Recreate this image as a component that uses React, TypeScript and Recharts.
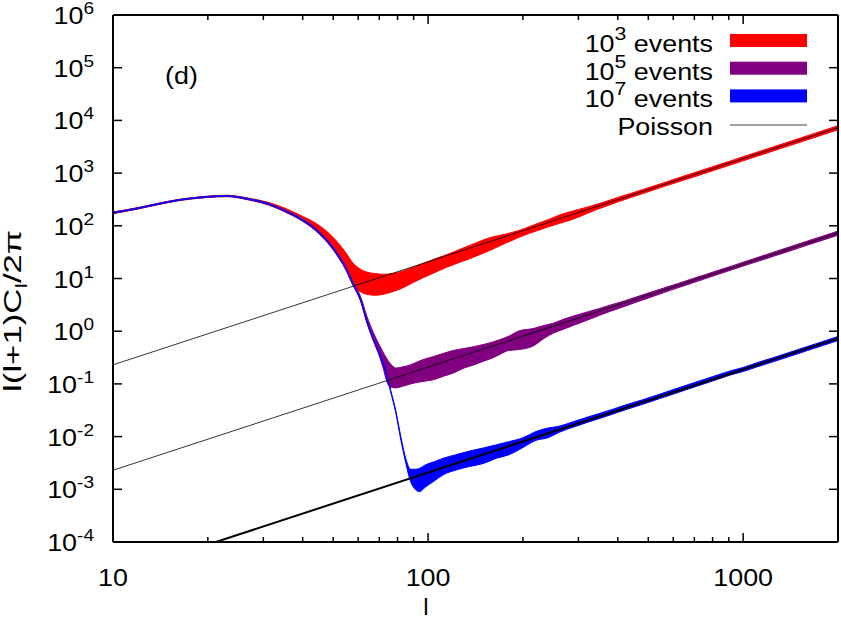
import React from "react";
import { ComposedChart, Area, Line, XAxis, YAxis, Legend } from "recharts";

const FONT = '"Liberation Sans", Arial, Helvetica, sans-serif';
const SX = 1.12; // text in the original is slightly wide

// Poisson noise levels, straight lines on log-log (end points)
const poissonL = [10, 2000];
const poisson3 = [0.23, 7300];
const poisson5 = [0.0023, 73];
const poisson7 = [0.000023, 0.73];

// 10^3 events band
const redL = [10, 12, 14, 16, 18, 20, 23, 27, 31, 35, 39, 44, 50, 55, 58, 61, 64, 68, 72, 77, 83, 90, 97, 105, 115, 125, 135, 145, 155, 165, 175, 185, 195, 210, 225, 240, 260, 280, 300, 320, 345, 370, 400, 440, 480, 520, 570, 620, 680, 750, 820, 900, 1000, 1100, 1250, 1400, 1600, 1800, 2000];
const redLo = [170, 208, 254, 296, 325, 345, 357, 308, 250, 185, 133, 80, 35, 14, 7.2, 5.6, 5.0, 4.8, 5.0, 5.6, 6.6, 8.5, 10.5, 13, 16.5, 20, 23.5, 28, 33, 39, 46, 53, 61, 72, 83, 95, 110, 126, 146, 172, 206, 240, 284, 345, 408, 480, 575, 675, 805, 975, 1160, 1390, 1715, 2060, 2645, 3300, 4290, 5400, 6650];
const redHi = [183, 222, 270, 314, 345, 366, 380, 334, 280, 218, 162, 112, 60, 30, 19, 15, 13.2, 12.4, 12.0, 12.4, 13.8, 16.5, 19.5, 23.5, 28.5, 35, 42, 50, 58, 64, 69, 75, 82, 97, 113, 130, 158, 182, 204, 226, 258, 295, 345, 412, 488, 568, 680, 805, 965, 1165, 1385, 1660, 2050, 2460, 3165, 3950, 5130, 6460, 7950];

// 10^5 events band
const purL = [10, 12, 14, 16, 18, 20, 23, 27, 31, 35, 39, 44, 50, 55, 58, 61, 64, 67, 70, 72, 74, 76, 79, 83, 88, 95, 104, 112, 120, 130, 140, 150, 160, 170, 180, 195, 215, 235, 250, 270, 290, 320, 350, 380, 420, 460, 500, 560, 620, 690, 760, 840, 920, 1000, 1100, 1250, 1400, 1600, 1800, 2000];
const purLo = [172, 210, 256, 299, 328, 348, 360, 312, 255, 189, 135, 81, 35, 14.2, 7.1, 3.8, 1.42, 0.66, 0.34, 0.2, 0.11, 0.087, 0.084, 0.09, 0.1, 0.11, 0.12, 0.14, 0.16, 0.2, 0.23, 0.27, 0.31, 0.37, 0.43, 0.45, 0.52, 0.75, 0.92, 1.1, 1.3, 1.62, 2.0, 2.4, 2.95, 3.6, 4.25, 5.4, 6.65, 8.2, 10.0, 12.2, 14.6, 17.2, 20.7, 26.5, 33, 43, 54, 66.5];
const purHi = [181, 220, 268, 311, 342, 362, 376, 328, 270, 202, 146, 89, 39.5, 16.2, 8.3, 4.6, 1.9, 0.95, 0.55, 0.4, 0.3, 0.24, 0.2, 0.21, 0.23, 0.28, 0.33, 0.38, 0.43, 0.47, 0.51, 0.56, 0.62, 0.7, 0.8, 1.02, 1.12, 1.3, 1.42, 1.7, 1.95, 2.32, 2.7, 3.15, 3.75, 4.5, 5.3, 6.6, 8.0, 9.9, 11.9, 14.5, 17.2, 20.4, 24.6, 31.6, 39.5, 51.3, 64.6, 79.5];

// 10^7 events band
const bluL = [10, 12, 14, 16, 18, 20, 23, 27, 31, 35, 39, 44, 50, 55, 58, 61, 64, 67, 70, 72, 74, 76, 79, 82, 85, 88, 91, 94, 98, 104, 112, 122, 135, 150, 165, 180, 200, 220, 240, 260, 290, 320, 350, 390, 430, 480, 540, 600, 670, 750, 830, 920, 1000, 1100, 1250, 1400, 1600, 1800, 2000];
const bluLo = [174, 212, 258, 301, 331, 350, 363, 315, 258, 192, 137, 83, 36, 14.6, 7.3, 3.9, 1.45, 0.68, 0.37, 0.24, 0.135, 0.072, 0.028, 0.0085, 0.0031, 0.0014, 0.001, 0.0009, 0.0011, 0.0014, 0.0019, 0.0023, 0.0027, 0.0031, 0.0039, 0.0045, 0.0062, 0.0085, 0.0095, 0.012, 0.0152, 0.0186, 0.022, 0.0274, 0.0333, 0.041, 0.052, 0.064, 0.08, 0.1, 0.122, 0.15, 0.172, 0.208, 0.265, 0.33, 0.43, 0.54, 0.665];
const bluHi = [179, 218, 266, 309, 339, 360, 373, 325, 266, 198, 143, 87, 38, 15.4, 7.7, 4.1, 1.55, 0.72, 0.39, 0.26, 0.145, 0.078, 0.031, 0.0098, 0.0038, 0.0024, 0.0024, 0.0025, 0.0029, 0.0033, 0.0039, 0.0045, 0.0053, 0.0061, 0.007, 0.008, 0.0095, 0.0125, 0.0145, 0.0157, 0.0193, 0.0234, 0.0275, 0.0338, 0.041, 0.05, 0.063, 0.078, 0.097, 0.121, 0.148, 0.18, 0.205, 0.25, 0.316, 0.395, 0.513, 0.645, 0.795];

const legendNames = ["events", "events", "events", "Poisson"];
const legendExp = ["3", "5", "7"];
const bandColors = ["#ff0000", "#800080", "#0000ff"];

const xTicks = [10, 20, 30, 40, 50, 60, 70, 80, 90, 100, 200, 300, 400, 500, 600, 700, 800, 900, 1000, 2000];
const xMajor = [10, 100, 1000];
const yTicks = [1e-4, 1e-3, 1e-2, 1e-1, 1, 10, 100, 1e3, 1e4, 1e5, 1e6];

const band = (ls: number[], lo: number[], hi: number[]) =>
  ls.map((l, i) => ({ l, range: [lo[i], hi[i]] }));
const pts = (ls: number[], vs: number[]) => ls.map((l, i) => ({ l, v: vs[i] }));

const redData = band(redL, redLo, redHi);
const purData = band(purL, purLo, purHi);
const bluData = band(bluL, bluLo, bluHi);

const XTickBottom = ({ x, y, payload }: any) => {
  const major = xMajor.includes(payload.value);
  return (
    <g>
      <line x1={x} x2={x} y1={y} y2={y - (major ? 9 : 5)} stroke="#000" strokeWidth={1.5} />
      {major && (
        <text transform={`translate(${x},${y + 44}) scale(${SX},1)`} textAnchor="middle" fontFamily={FONT} fontSize={24} fill="#000">
          {payload.value}
        </text>
      )}
    </g>
  );
};

const XTickTop = ({ x, y, payload }: any) => {
  const major = xMajor.includes(payload.value);
  return <line x1={x} x2={x} y1={y} y2={y + (major ? 9 : 5)} stroke="#000" strokeWidth={1.5} />;
};

const YTickLeft = ({ x, y, payload }: any) => {
  const e = Math.round(Math.log10(payload.value));
  return (
    <g>
      <line x1={x} x2={x + 9} y1={y} y2={y} stroke="#000" strokeWidth={1.5} />
      <text transform={`translate(${x - 19},${y + 9}) scale(${SX},1)`} textAnchor="end" fontFamily={FONT} fontSize={24} fill="#000">
        10<tspan dy={-10} fontSize={17}>{String(e)}</tspan>
      </text>
    </g>
  );
};

const YTickRight = ({ x, y }: any) => (
  <line x1={x} x2={x - 9} y1={y} y2={y} stroke="#000" strokeWidth={1.5} />
);

const YTitle = (props: any) => {
  const vb = props.viewBox || { x: 13, y: 15, height: 527 };
  return (
    <text transform={`translate(${vb.x + 8},311) rotate(-90) scale(1.45,1)`} textAnchor="middle" fontFamily={FONT} fontSize={24} fill="#000">
      l(l+1)C<tspan fontSize={17} dy={6}>l</tspan>
      <tspan dy={-6}>/2π</tspan>
    </text>
  );
};

const XTitle = (props: any) => {
  const vb = props.viewBox || { x: 113, y: 542, width: 725 };
  return (
    <text x={vb.x + 313} y={615} textAnchor="middle" fontFamily={FONT} fontSize={24} fill="#000">
      l
    </text>
  );
};

const LegendBox = () => (
  <svg width={841} height={622} style={{ display: "block" }}>
    <text transform={`translate(165,84) scale(${SX},1)`} fontFamily={FONT} fontSize={24} fill="#000">
      (d)
    </text>
    {legendNames.map((name, i) => {
      const base = 52 + i * 27.7;
      const isBand = i < 3;
      return (
        <g key={i}>
          <text transform={`translate(713,${base}) scale(${SX},1)`} textAnchor="end" fontFamily={FONT} fontSize={24} fill="#000">
            {isBand ? (
              <>
                10<tspan dy={-12} fontSize={19}>{legendExp[i]}</tspan>
                <tspan dy={12}>{"\u00a0" + name}</tspan>
              </>
            ) : (
              name
            )}
          </text>
          {isBand ? (
            <rect x={730} y={base - 18} width={77} height={13} fill={bandColors[i]} />
          ) : (
            <line x1={730} x2={807} y1={base - 10} y2={base - 10} stroke="#a0a0a0" strokeWidth={2} />
          )}
        </g>
      );
    })}
  </svg>
);

export default function App() {
  return (
    <div style={{ position: "absolute", left: 0, top: 0, width: 841, height: 622, background: "#fff" }}>
      <ComposedChart width={841} height={622} margin={{ top: 14, right: 2, bottom: 20, left: 13 }}>
        <XAxis
          xAxisId="b"
          dataKey="l"
          type="number"
          scale="log"
          domain={[10, 2000]}
          allowDataOverflow
          ticks={xTicks}
          interval={0}
          height={60}
          tickSize={0}
          tickMargin={0}
          tickLine={false}
          axisLine={{ stroke: "#000", strokeWidth: 2 }}
          tick={<XTickBottom />}
          label={XTitle}
        />
        <XAxis
          xAxisId="t"
          orientation="top"
          dataKey="l"
          type="number"
          scale="log"
          domain={[10, 2000]}
          allowDataOverflow
          ticks={xTicks}
          interval={0}
          height={1}
          tickSize={0}
          tickMargin={0}
          tickLine={false}
          axisLine={{ stroke: "#000", strokeWidth: 2 }}
          tick={<XTickTop />}
        />
        <YAxis
          yAxisId="l"
          type="number"
          scale="log"
          domain={[1e-4, 1e6]}
          allowDataOverflow
          ticks={yTicks}
          interval={0}
          width={100}
          tickSize={0}
          tickMargin={0}
          tickLine={false}
          axisLine={{ stroke: "#000", strokeWidth: 2 }}
          tick={<YTickLeft />}
          label={YTitle}
        />
        <YAxis
          yAxisId="r"
          orientation="right"
          type="number"
          scale="log"
          domain={[1e-4, 1e6]}
          allowDataOverflow
          ticks={yTicks}
          interval={0}
          width={1}
          tickSize={0}
          tickMargin={0}
          tickLine={false}
          axisLine={{ stroke: "#000", strokeWidth: 2 }}
          tick={<YTickRight />}
        />
        <Legend
          layout="vertical"
          align="center"
          verticalAlign="middle"
          wrapperStyle={{ left: 0, top: 0, width: 841, height: 622, pointerEvents: "none" }}
          content={() => <LegendBox />}
        />
        <Area data={redData} dataKey="range" xAxisId="b" yAxisId="l" type="monotoneX" stroke="#ff0000" strokeWidth={1} fill="#ff0000" fillOpacity={1} dot={false} activeDot={false} isAnimationActive={false} />
        <Area data={purData} dataKey="range" xAxisId="b" yAxisId="l" type="monotoneX" stroke="#800080" strokeWidth={1} fill="#800080" fillOpacity={1} dot={false} activeDot={false} isAnimationActive={false} />
        <Area data={bluData} dataKey="range" xAxisId="b" yAxisId="l" type="monotoneX" stroke="#0000ff" strokeWidth={1} fill="#0000ff" fillOpacity={1} dot={false} activeDot={false} isAnimationActive={false} />
        <Line data={pts(poissonL, poisson3)} dataKey="v" xAxisId="b" yAxisId="l" type="linear" stroke="#000" strokeWidth={0.8} dot={false} activeDot={false} isAnimationActive={false} />
        <Line data={pts(poissonL, poisson5)} dataKey="v" xAxisId="b" yAxisId="l" type="linear" stroke="#000" strokeWidth={0.8} dot={false} activeDot={false} isAnimationActive={false} />
        <Line data={pts(poissonL, poisson7)} dataKey="v" xAxisId="b" yAxisId="l" type="linear" stroke="#000" strokeWidth={2} dot={false} activeDot={false} isAnimationActive={false} />
      </ComposedChart>
    </div>
  );
}
